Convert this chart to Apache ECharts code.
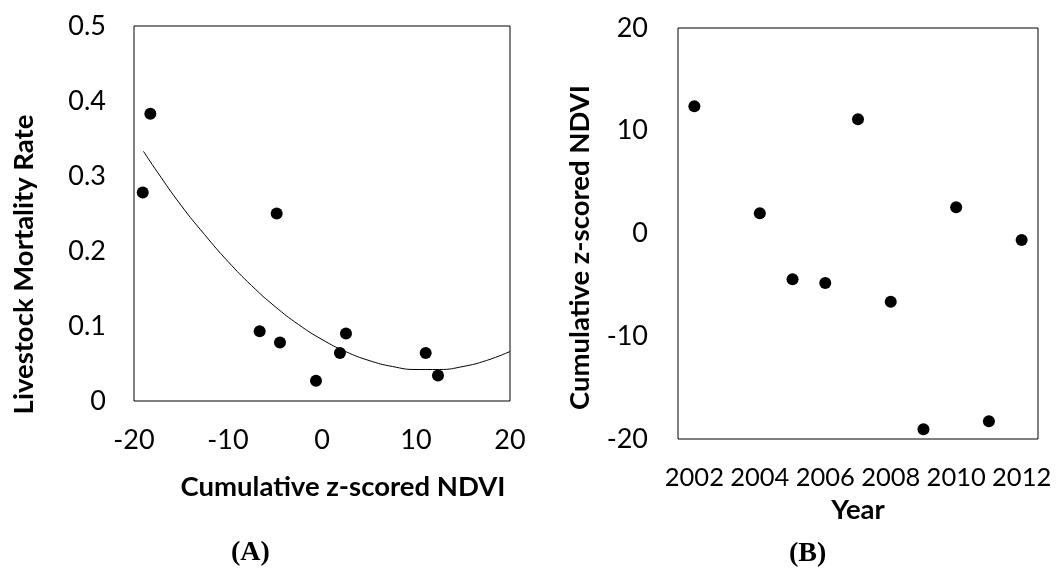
<!DOCTYPE html>
<html><head><meta charset="utf-8">
<script src="https://cdn.jsdelivr.net/npm/echarts@6/dist/echarts.min.js"></script>
<style>html,body{margin:0;padding:0;background:#fff}#c{width:1062px;height:571px}</style>
</head><body><div id="c"></div>
<script>
// Panel A: livestock mortality vs cumulative z-scored NDVI
const ndvi = [-19.07, -18.26, -6.63, -4.82, -4.47, -0.64, 1.91, 2.55, 11.03, 12.34];
const mortality = [0.278, 0.383, 0.093, 0.250, 0.078, 0.027, 0.064, 0.090, 0.064, 0.034];
// Trend curve
const trendX = [-19, -17.5, -15, -12.5, -10, -7.5, -5, -2.5, 0, 2.5, 5, 7.5, 10, 12.5, 15, 17.5, 20];
const trendY = [0.333, 0.305, 0.261, 0.222, 0.186, 0.154, 0.126, 0.102, 0.082, 0.066, 0.054, 0.046, 0.042, 0.042, 0.046, 0.054, 0.066];
// Panel B: cumulative z-scored NDVI by year
const years = ['2002', '2003', '2004', '2005', '2006', '2007', '2008', '2009', '2010', '2011', '2012'];
const yearNdvi = [12.38, '-', 1.96, -4.46, -4.82, 11.11, -6.64, -19.06, 2.55, -18.28, -0.63];
const xTicksA = ['-20', '-10', '0', '10', '20'];
const yTicksA = ['0', '0.1', '0.2', '0.3', '0.4', '0.5'];

const FONT = 'Lato';
const tickStyle = {color: '#000', fontFamily: FONT, fontSize: 27};
const yearTickStyle = {color: '#000', fontFamily: FONT, fontSize: 25.5};
const nameStyle = {color: '#000', fontFamily: FONT, fontSize: 27.5, fontWeight: 'bold'};

const chart = echarts.init(document.getElementById('c'), null, {renderer: 'canvas'});
chart.setOption({
  animation: false,
  backgroundColor: '#fff',
  grid: [
    {left: 134, top: 26, width: 376, height: 375, show: true, borderColor: '#000', borderWidth: 1, backgroundColor: 'transparent'},
    {left: 678, top: 28, width: 360, height: 411, show: true, borderColor: '#000', borderWidth: 1, backgroundColor: 'transparent'}
  ],
  xAxis: [
    {gridIndex: 0, type: 'value', min: -20, max: 20, interval: 10,
     axisLine: {show: false}, axisTick: {show: false}, splitLine: {show: false},
     axisLabel: Object.assign({margin: 26, formatter: v => xTicksA[Math.round((v + 20) / 10)]}, tickStyle),
     name: 'Cumulative z-scored NDVI', nameLocation: 'middle', nameGap: 72,
     nameTextStyle: Object.assign({padding: [0, 0, 0, 42]}, nameStyle)},
    {gridIndex: 1, type: 'category', data: years, boundaryGap: true,
     axisLine: {show: false}, axisTick: {show: false}, splitLine: {show: false},
     axisLabel: Object.assign({margin: 26, interval: 1}, yearTickStyle),
     name: 'Year', nameLocation: 'middle', nameGap: 52, nameTextStyle: nameStyle}
  ],
  yAxis: [
    {gridIndex: 0, type: 'value', min: 0, max: 0.5, interval: 0.1,
     axisLine: {show: false}, axisTick: {show: false}, splitLine: {show: false},
     axisLabel: Object.assign({margin: 28, formatter: v => yTicksA[Math.round(v * 10)]}, tickStyle),
     name: 'Livestock Mortality Rate', nameLocation: 'middle', nameGap: 96,
     nameTextStyle: Object.assign({padding: [0, 102, 0, 0]}, nameStyle)},
    {gridIndex: 1, type: 'value', min: -20, max: 20, interval: 10,
     axisLine: {show: false}, axisTick: {show: false}, splitLine: {show: false},
     axisLabel: Object.assign({margin: 30}, tickStyle),
     name: 'Cumulative z-scored NDVI', nameLocation: 'middle', nameGap: 84,
     nameTextStyle: Object.assign({padding: [0, 28, 0, 0]}, nameStyle)}
  ],
  series: [
    {type: 'line', xAxisIndex: 0, yAxisIndex: 0, data: trendX.map((x, i) => [x, trendY[i]]),
     smooth: true, showSymbol: false, lineStyle: {color: '#000', width: 1}, silent: true},
    {type: 'scatter', xAxisIndex: 0, yAxisIndex: 0, data: ndvi.map((x, i) => [x, mortality[i]]),
     symbolSize: 12, itemStyle: {color: '#000', opacity: 1}},
    {type: 'scatter', xAxisIndex: 1, yAxisIndex: 1, data: yearNdvi,
     symbolSize: 12, itemStyle: {color: '#000', opacity: 1}}
  ],
  graphic: [
    {type: 'text', left: 231, top: 539, style: {text: '(A)', font: 'bold 28px "Liberation Serif"', fill: '#000'}},
    {type: 'text', left: 789, top: 540, style: {text: '(B)', font: 'bold 28px "Liberation Serif"', fill: '#000'}}
  ]
});
</script></body></html>
